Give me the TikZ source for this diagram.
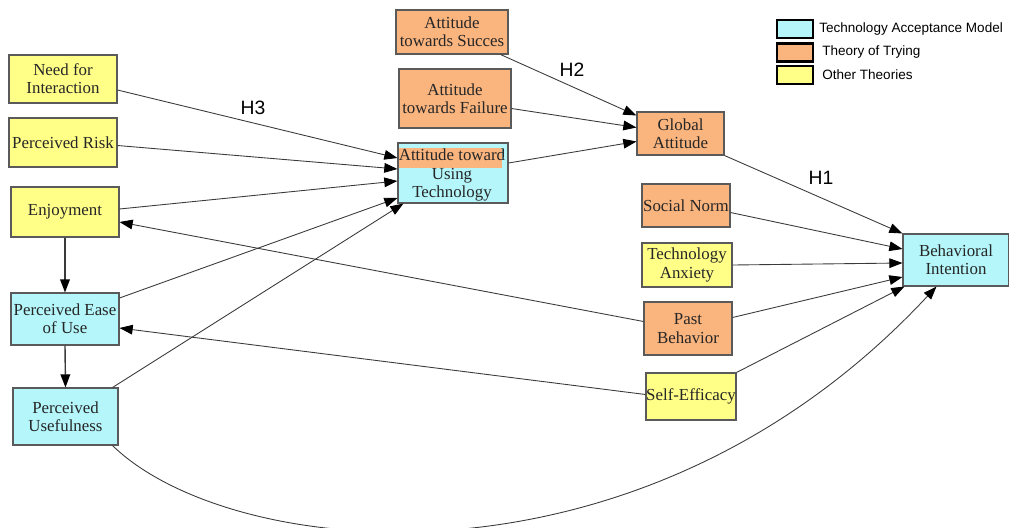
\documentclass[tikz,border=0pt]{standalone}
\usepackage{fontspec}
\setmainfont{Liberation Serif}
\newfontfamily\legendfont{Liberation Sans}
\usetikzlibrary{arrows.meta,calc}
\definecolor{tamcol}{HTML}{B4F6FA}
\definecolor{ttcol}{HTML}{FAB47E}
\definecolor{othcol}{HTML}{FFFF88}
\definecolor{edgecol}{HTML}{5A5A5A}
\definecolor{linecol}{HTML}{3A3A3A}
\begin{document}
\begin{tikzpicture}[x=0.02cm,y=-0.02cm,
  boxtext/.style={align=center, inner sep=0pt, font=\fontsize{9.6}{10.4}\selectfont, text=black!85},
  box/.style={boxtext, draw=edgecol, line width=0.6pt},
  tam/.style={box, fill=tamcol},
  tt/.style={box, fill=ttcol},
  oth/.style={box, fill=othcol},
  link/.style={draw=linecol, line width=0.5pt, -{Triangle[length=7.5pt,width=5.5pt,color=black]}},
  vlink/.style={link, line width=0.8pt},
  legbox/.style={draw=black, line width=1.2pt, minimum width=0.72cm, minimum height=0.36cm, inner sep=0pt},
  legtext/.style={anchor=west, inner sep=0pt, font=\legendfont\fontsize{7.7}{9}\selectfont},
  hyp/.style={inner sep=0pt, font=\legendfont\fontsize{11}{13}\selectfont},
]
\useasboundingbox (0,0) rectangle (1009,528);

% left column
\node[oth, minimum width=2.16cm, minimum height=0.96cm] (nfi) at (63,79) {Need for\\Interaction};
\node[oth, minimum width=2.16cm, minimum height=0.98cm] (pr) at (63,142.5) {Perceived Risk};
\node[oth, minimum width=2.16cm, minimum height=1.0cm] (enj) at (65,212) {Enjoyment};
\node[tam, minimum width=2.16cm, minimum height=1.04cm] (peu) at (65,319) {Perceived Ease\\of Use};
\node[tam, minimum width=2.1cm, minimum height=1.14cm] (pu) at (65.5,416.5) {Perceived\\Usefulness};

% attitude column
\node[tt, minimum width=2.24cm, minimum height=0.88cm] (ats) at (452,32) {Attitude\\towards Succes};
\node[tt, minimum width=2.24cm, minimum height=1.18cm] (atf) at (455,98.5) {Attitude\\towards Failure};
\node[tam, minimum width=2.2cm, minimum height=1.2cm] (aut) at (453,173) {};
\fill[ttcol] (399,148) rectangle (502,168);
\draw[black!80, line width=0.5pt] (503,149) -- (503,157);
\node[boxtext] (auttext) at (452,175) {Attitude toward\\Using\\Technology};

% right column
\node[tt, minimum width=1.74cm, minimum height=0.86cm] (ga) at (680.5,133.5) {Global\\Attitude};
\node[tt, minimum width=1.76cm, minimum height=0.86cm] (sn) at (686,205.5) {Social Norm};
\node[oth, minimum width=1.8cm, minimum height=0.88cm] (ta) at (687,265) {Technology\\Anxiety};
\node[tt, minimum width=1.76cm, minimum height=1.06cm] (pb) at (688,328.5) {Past\\Behavior};
\node[oth, minimum width=1.8cm, minimum height=0.94cm] (se) at (691,396.5) {Self-Efficacy};
\node[tam, minimum width=2.12cm, minimum height=1.04cm] (bi) at (956,260) {Behavioral\\Intention};

% legend
\node[legbox, fill=tamcol] (lg1) at (795,29) {};
\node[legbox, fill=ttcol] (lg2) at (795,52.5) {};
\node[legbox, fill=othcol] (lg3) at (795,75) {};
\node[legtext] (lt1) at (819,29) {Technology Acceptance Model};
\node[legtext] (lt2) at (822,52) {Theory of Trying};
\node[legtext] (lt3) at (822,75) {Other Theories};

% hypothesis labels
\node[hyp] (h3) at (253,108) {H3};
\node[hyp] (h2) at (572,70) {H2};
\node[hyp] (h1) at (821,178) {H1};

% paths into attitude toward using technology
\draw[link] ($(nfi.east)+(0,11)$) -- ($(aut.west)+(0,-15)$);
\draw[link] ($(pr.east)+(0,3)$) -- ($(aut.west)+(0,-4)$);
\draw[link] ($(enj.east)+(0,-3)$) -- ($(aut.west)+(0,8)$);
\draw[link] ($(peu.east)+(0,-21)$) -- ($(aut.west)+(0,25)$);
\draw[link] ($(pu.north east)+(-6,0)$) -- ($(aut.south west)+(6,0)$);
\draw[vlink] (enj.south) -- (peu.north);
\draw[vlink] (peu.south) -- (pu.north);

% paths into global attitude
\draw[link] ($(ats.south east)+(-8,0)$) -- ($(ga.west)+(0,-18)$);
\draw[link] ($(atf.east)+(0,10)$) -- ($(ga.west)+(0,-6)$);
\draw[link] ($(aut.east)+(0,-10)$) -- ($(ga.west)+(0,8)$);

% paths into behavioral intention
\draw[link] (ga.south east) -- (bi.north west);
\draw[link] ($(sn.east)+(0,7)$) -- ($(bi.west)+(0,-11)$);
\draw[link] (ta.east) -- ($(bi.west)+(0,3)$);
\draw[link] ($(pb.east)+(0,-11)$) -- ($(bi.west)+(0,17)$);
\draw[link] (se.north east) -- ($(bi.south west)+(2,0)$);
\draw[link] ($(pu.south east)+(-6,0)$) .. controls (230,560) and (640,605) .. ($(bi.south west)+(34,0)$);

% feedback paths to the left column
\draw[link] ($(pb.west)+(0,-7)$) -- ($(enj.east)+(0,10)$);
\draw[link] ($(se.west)+(0,-2)$) -- ($(peu.east)+(0,9)$);
\end{tikzpicture}
\end{document}
